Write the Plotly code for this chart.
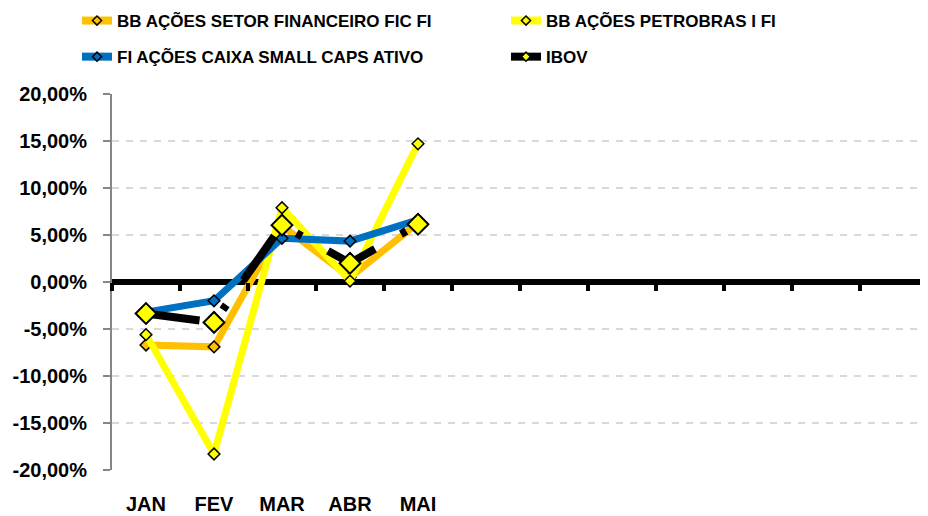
import plotly.graph_objects as go

# ---- data (values in %) ----
months = ["JAN", "FEV", "MAR", "ABR", "MAI"]
n_slots = 12  # category slots on the axis (JAN..DEZ), only 5 labelled
setor_financeiro = [-6.7, -6.9, 6.0, 0.5, 6.3]
petrobras = [-5.6, -18.3, 7.9, 0.1, 14.7]
small_caps = [-3.2, -2.0, 4.65, 4.35, 6.6]
ibov = [-3.35, -4.3, 6.05, 2.0, 6.15]
y_ticks = [-20, -15, -10, -5, 0, 5, 10, 15, 20]
y_tick_labels = ["-20,00%", "-15,00%", "-10,00%", "-5,00%", "0,00%",
                 "5,00%", "10,00%", "15,00%", "20,00%"]

names = ["BB AÇÕES SETOR FINANCEIRO FIC FI", "BB AÇÕES PETROBRAS I FI",
         "FI AÇÕES CAIXA SMALL CAPS ATIVO", "IBOV"]

FONT = "Liberation Sans"
x_idx = list(range(len(months)))

def frac(v):
    return [a / 100 for a in v]

fig = go.Figure()

series = [
    (setor_financeiro, "#FFC000", "#FFC000", 7, 9, 1.5, "solid"),
    (petrobras, "#FFFF00", "#FFFF00", 7, 9, 1.5, "solid"),
    (small_caps, "#0070C0", "#0070C0", 7, 9, 1.5, "solid"),
    (ibov, "#000000", "#FFFF00", 8, 16, 2, "54px,30px,6px,30px"),
]
for (vals, lc, mc, lw, ms, mlw, dash), nm in zip(series, names):
    fig.add_trace(go.Scatter(
        x=x_idx, y=frac(vals), mode="lines+markers", name=nm, showlegend=False,
        line=dict(color=lc, width=lw, dash=dash),
        marker=dict(symbol="diamond", size=ms, color=mc, line=dict(color="#000000", width=mlw)),
        hovertemplate="%{y:.2%}<extra>" + nm + "</extra>",
    ))

# legend entries (no data), two columns
legend_cols = ["legend", "legend2", "legend", "legend2"]
legend_marker = ["#FFC000", "#FFFF00", "#0070C0", "#FFFF00"]
legend_line = ["#FFC000", "#FFFF00", "#0070C0", "#000000"]
for i, nm in enumerate(names):
    fig.add_trace(go.Scatter(
        x=[None], y=[None], xaxis="x2", mode="lines+markers", name=nm,
        legend=legend_cols[i], legendgroup="g%d" % i,
        line=dict(color=legend_line[i], width=8),
        marker=dict(symbol="diamond", size=7, color=legend_marker[i],
                    line=dict(color="#000000", width=1.5)),
    ))

leg_common = dict(xref="container", yref="paper", xanchor="left", yanchor="top",
                  orientation="v", tracegroupgap=11, bgcolor="rgba(0,0,0,0)",
                  font=dict(family=FONT, size=17, color="#000000", weight="bold"))

# page has an 8px body margin: figure is 920x508 placed at (8, 8)
fig.update_layout(
    width=920, height=508,
    margin=dict(l=104, r=0, t=86, b=46, autoexpand=False),
    paper_bgcolor="white", plot_bgcolor="white",
    font=dict(family=FONT, color="#000000"),
    legend=dict(x=69 / 920, y=1 + 91 / 376, **leg_common),
    legend2=dict(x=498 / 920, y=1 + 91 / 376, **leg_common),
    xaxis=dict(
        range=[-0.5, n_slots - 0.5], tickmode="array", tickvals=x_idx, ticktext=months,
        showgrid=False, showline=False, zeroline=False, ticks="", automargin=False,
        ticklabelstandoff=20,
        tickfont=dict(family=FONT, size=20, color="#000000", weight="bold"),
    ),
    xaxis2=dict(
        overlaying="x", anchor="free", position=0.5, side="bottom", automargin=False,
        range=[-0.5, n_slots - 0.5], tickmode="array",
        tickvals=[k - 0.5 for k in range(n_slots + 1)],
        ticks="outside", ticklen=8, tickwidth=4, tickcolor="#000000",
        showticklabels=False, showgrid=False, showline=False, zeroline=False,
    ),
    yaxis=dict(
        range=[-0.2, 0.2], tickmode="array", tickvals=frac(y_ticks), ticktext=y_tick_labels,
        showgrid=True, gridcolor="#D9D9D9", gridwidth=2, griddash="7px,7px",
        zeroline=True, zerolinecolor="#000000", zerolinewidth=6, automargin=False,
        showline=True, linecolor="#868686", linewidth=2,
        ticks="outside", ticklen=7, tickwidth=2, tickcolor="#868686",
        ticklabelstandoff=12,
        tickfont=dict(family=FONT, size=20, color="#000000", weight="bold"),
    ),
)

fig.write_html("out.html")
